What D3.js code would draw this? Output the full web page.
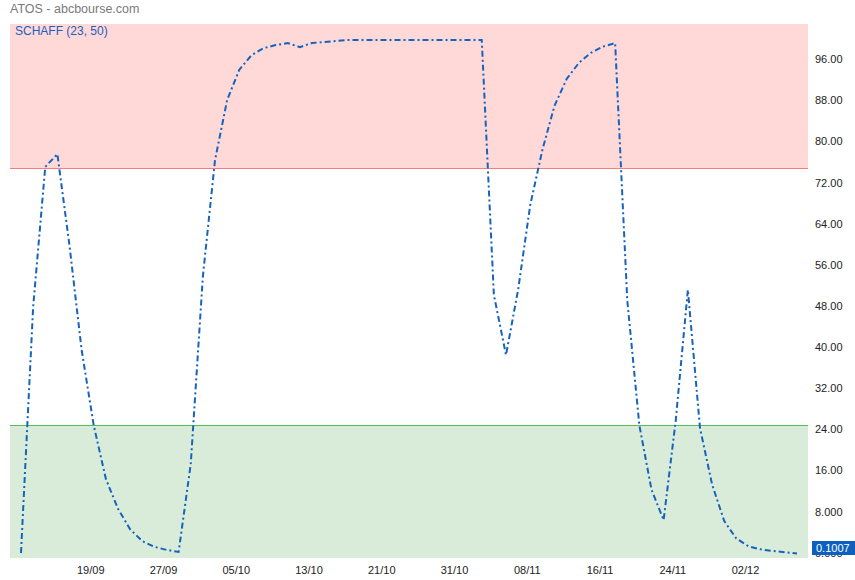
<!DOCTYPE html>
<html><head><meta charset="utf-8">
<script src="https://cdn.jsdelivr.net/npm/d3@7"></script>
<style>body{margin:0;background:#fff;}svg{display:block;font-family:Arial,"Liberation Sans",sans-serif;}</style>
</head><body>
<svg id="c" width="855" height="580"></svg>
<script>
const dates = ["09/09","12/09","13/09","14/09","15/09","16/09","19/09","20/09","21/09","22/09","23/09","26/09","27/09","28/09","29/09","30/09","03/10","04/10","05/10","06/10","07/10","10/10","11/10","12/10","13/10","14/10","17/10","18/10","19/10","20/10","21/10","24/10","25/10","26/10","27/10","28/10","31/10","01/11","02/11","03/11","04/11","07/11","08/11","09/11","10/11","11/11","14/11","15/11","16/11","17/11","18/11","21/11","22/11","23/11","24/11","25/11","28/11","29/11","30/11","01/12","02/12","05/12","06/12","07/12","08/12"];
const schaff = [0.2,48,75.3,77.8,60,39.7,25,14.6,8.8,4.8,2.5,1.4,0.8,0.4,17.5,54,76.6,88.3,94.2,97,98.4,99,99.4,98.6,99.4,99.6,99.8,100,100,100,100,100,100,100,100,100,100,100,100,50.4,38.7,51.4,67.9,78.6,87.2,92.4,95.5,97.5,98.7,99.4,49.4,25,12.5,6.6,26,51.4,24.5,13.5,6.4,3,1.5,0.9,0.6,0.35,0.1007];
const xTickLabels = ["19/09","27/09","05/10","13/10","21/10","31/10","08/11","16/11","24/11","02/12"];
const yTicks = [0,8,16,24,32,40,48,56,64,72,80,88,96];
const upperLevel = 75, lowerLevel = 25;
const lastValue = 0.1007;

(function(){
const svg = d3.select("#c");
const pl = 10, pr = 808, pt = 24, pb = 558;
const x = d3.scalePoint().domain(dates).range([21, 797]);
const y = d3.scaleLinear().domain([-0.78, 103.1]).range([pb, pt]);
const yu = Math.round(y(upperLevel)), yl = Math.round(y(lowerLevel));

// bands
svg.append("rect").attr("x", pl).attr("y", pt).attr("width", pr-pl).attr("height", yu-pt).attr("fill", "#ffd8d8");
svg.append("rect").attr("x", pl).attr("y", yl).attr("width", pr-pl).attr("height", pb-yl).attr("fill", "#d9ecd9");
svg.append("rect").attr("x", pl).attr("y", yu).attr("width", pr-pl).attr("height", 1).attr("fill", "#f07f7f");
svg.append("rect").attr("x", pl).attr("y", yl).attr("width", pr-pl).attr("height", 1).attr("fill", "#55c055");

// titles
svg.append("text").attr("x", 10).attr("y", 13).attr("font-size", 12.5).attr("fill", "#7a7a7a").text("ATOS - abcbourse.com");
svg.append("text").attr("x", 15).attr("y", 35).attr("font-size", 12).attr("fill", "#1a5fbf").text("SCHAFF (23, 50)");

// y axis
const fmt = d3.format(".4r");
const yAxis = d3.axisRight(y).tickValues(yTicks).tickSize(0).tickPadding(7).tickFormat(fmt);
const ga = svg.append("g").attr("transform", `translate(${pr},0)`).call(yAxis);
ga.select(".domain").remove();
ga.selectAll("text").attr("font-size", 11).attr("fill", "#222").attr("font-family", "Arial, 'Liberation Sans', sans-serif").attr("dy", "0.2em");

// x axis
const xAxis = d3.axisBottom(x).tickValues(xTickLabels).tickSize(0).tickPadding(8);
const gx = svg.append("g").attr("transform", `translate(-3.5,${pb})`).call(xAxis);
gx.select(".domain").remove();
gx.selectAll("text").attr("font-size", 11).attr("fill", "#222").attr("font-family", "Arial, 'Liberation Sans', sans-serif");

// line
const line = d3.line().x((d,i)=>x(dates[i])).y(d=>y(d));
svg.append("path").datum(schaff).attr("d", line).attr("fill", "none").attr("stroke", "#1563bd").attr("stroke-width", 2).attr("stroke-dasharray", "6,3,2,3");

// last value box
svg.append("rect").attr("x", 812).attr("y", 541).attr("width", 43).attr("height", 14).attr("fill", "#0d5fc0");
svg.append("text").attr("x", 816).attr("y", 552).attr("font-size", 11).attr("fill", "#fff").text(fmt(lastValue));
})();
</script>
</body></html>
